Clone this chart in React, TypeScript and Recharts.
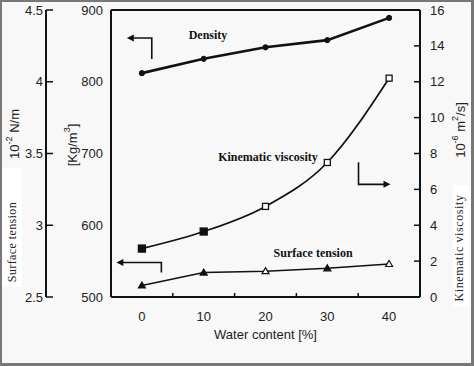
import React from "react";
import { LineChart, Line, XAxis, YAxis, ReferenceLine, ReferenceDot } from "recharts";

const waterContent = [0, 10, 20, 30, 40];
const density = [812, 832, 848, 858, 889];
const kinematicViscosity = [2.7, 3.65, 5.05, 7.5, 12.2];
const surfaceTension = [2.58, 2.67, 2.68, 2.7, 2.73];

const xTicks = [0, 5, 10, 15, 20, 25, 30, 35, 40];
const densityTicks = [500, 600, 700, 800, 900];
const tensionTicks = [2.5, 3, 3.5, 4, 4.5];
const viscosityTicks = [0, 2, 4, 6, 8, 10, 12, 14, 16];

const data = waterContent.map((w, i) => ({
  w,
  density: density[i],
  kv: kinematicViscosity[i],
  st: surfaceTension[i],
}));

const INK = "#111";
const SANS = "'Liberation Sans', Arial, sans-serif";
const SERIF = "'Liberation Serif', 'Times New Roman', serif";

const XTick = (p: any) => {
  const v = p.payload.value;
  if (v % 10 === 0) {
    return (
      <text x={p.x} y={p.y + 24} textAnchor="middle" fontSize={13} fill="#222" fontFamily={SANS}>
        {v}
      </text>
    );
  }
  return <line x1={p.x} x2={p.x} y1={p.y} y2={p.y - 4} stroke={INK} strokeWidth={1.5} />;
};

const TensionTick = (p: any) => (
  <g>
    <line x1={p.x + 3} x2={p.x + 10} y1={p.y} y2={p.y} stroke={INK} strokeWidth={1.5} />
    <text x={p.x} y={p.y + 4.5} textAnchor="end" fontSize={13} fill="#222" fontFamily={SANS}>
      {p.payload.value}
    </text>
  </g>
);

const ViscTick = (p: any) => (
  <g>
    <line x1={p.x - 10} x2={p.x - 16} y1={p.y} y2={p.y} stroke={INK} strokeWidth={1.5} />
    <text x={p.x} y={p.y + 4.5} textAnchor="start" fontSize={13} fill="#222" fontFamily={SANS}>
      {p.payload.value}
    </text>
  </g>
);

const squareDot = (p: any) => {
  const filled = p.index < 2;
  const s = filled ? 7 : 6;
  return (
    <rect
      key={`kv-${p.index}`}
      x={p.cx - s / 2}
      y={p.cy - s / 2}
      width={s}
      height={s}
      fill={filled ? INK : "#fff"}
      stroke={INK}
      strokeWidth={1.3}
    />
  );
};

const triangleDot = (p: any) => {
  const filled = p.index !== 2 && p.index !== 4;
  return (
    <path
      key={`st-${p.index}`}
      d={`M${p.cx},${p.cy - 3.5} L${p.cx + 3.5},${p.cy + 2.5} L${p.cx - 3.5},${p.cy + 2.5} Z`}
      fill={filled ? INK : "#fff"}
      stroke={INK}
      strokeWidth={1.2}
    />
  );
};

const arrow = (path: string, head: string) => (p: any) => (
  <g transform={`translate(${p.cx},${p.cy})`}>
    <path d={path} fill="none" stroke={INK} strokeWidth={1.6} />
    <path d={head} fill={INK} />
  </g>
);

const note = (label: string) => (p: any) => (
  <text
    x={p.cx}
    y={p.cy}
    textAnchor="middle"
    dominantBaseline="central"
    fontSize={12}
    fontWeight="bold"
    fontFamily={SERIF}
    fill={INK}
  >
    {label}
  </text>
);

export default function App() {
  return (
    <div style={{ position: "absolute", top: 0, left: 0, width: 474, height: 366, background: "#787878" }}>
      <div style={{ position: "absolute", top: 2, left: 2, right: 3, bottom: 3, background: "#f8f8f8" }} />
      <svg width={474} height={366} style={{ position: "absolute", top: 0, left: 0 }}>
        <rect x={2} y={168} width={20} height={119} fill="#fff" />
        <rect x={453} y={185} width={18} height={122} fill="#fff" />
        <g transform="translate(14,134) rotate(-90)">
          <text textAnchor="middle" dominantBaseline="central" fontSize={13} fontFamily={SANS} fill="#222">
            10<tspan dy={-5} fontSize={9}>-2</tspan>
            <tspan dy={5}> N/m</tspan>
          </text>
        </g>
        <g transform="translate(12,242) rotate(-90)">
          <text textAnchor="middle" dominantBaseline="central" fontSize={12} fontFamily={SERIF} fill="#222" letterSpacing={0.4}>
            Surface tension
          </text>
        </g>
        <g transform="translate(72,145) rotate(-90)">
          <text textAnchor="middle" dominantBaseline="central" fontSize={13} fontFamily={SANS} fill="#222">
            [Kg/m<tspan dy={-5} fontSize={9}>3</tspan>
            <tspan dy={5}>]</tspan>
          </text>
        </g>
        <g transform="translate(460,130) rotate(-90)">
          <text textAnchor="middle" dominantBaseline="central" fontSize={13} fontFamily={SANS} fill="#222">
            10<tspan dy={-5} fontSize={9}>-6</tspan>
            <tspan dy={5}> m</tspan>
            <tspan dy={-5} fontSize={9}>2</tspan>
            <tspan dy={5}>/s]</tspan>
          </text>
        </g>
        <g transform="translate(459,248) rotate(-90)">
          <text textAnchor="middle" dominantBaseline="central" fontSize={12} fontFamily={SERIF} fill="#222" letterSpacing={0.6}>
            Kinematic viscosity
          </text>
        </g>
      </svg>
      <div style={{ position: "absolute", top: 0, left: 0 }}>
        <LineChart width={474} height={366} data={data} margin={{ top: 10, right: 0, left: 0, bottom: 39 }}>
          <XAxis
            xAxisId="x"
            dataKey="w"
            type="number"
            domain={[-5, 45]}
            ticks={xTicks}
            interval={0}
            height={30}
            tickSize={0}
            tickMargin={0}
            tickLine={false}
            axisLine={{ stroke: INK, strokeWidth: 2 }}
            tick={<XTick />}
            label={{
              value: "Water content [%]",
              position: "insideBottom",
              offset: -12,
              fontSize: 13,
              fill: "#222",
              fontFamily: SANS,
            }}
          />
          <YAxis
            yAxisId="density"
            orientation="left"
            width={65}
            domain={[500, 900]}
            ticks={densityTicks}
            interval={0}
            tickSize={0}
            tickMargin={8}
            tickLine={false}
            axisLine={{ stroke: INK, strokeWidth: 2 }}
            tick={{ fontSize: 13, fill: "#222", fontFamily: SANS }}
          />
          <YAxis
            yAxisId="tension"
            orientation="left"
            width={46}
            domain={[2.5, 4.5]}
            ticks={tensionTicks}
            interval={0}
            tickSize={0}
            tickMargin={3}
            tickLine={false}
            axisLine={{ stroke: INK, strokeWidth: 2 }}
            tick={<TensionTick />}
          />
          <YAxis
            yAxisId="visc"
            orientation="right"
            width={54}
            domain={[0, 16]}
            ticks={viscosityTicks}
            interval={0}
            tickSize={0}
            tickMargin={10}
            tickLine={false}
            axisLine={{ stroke: INK, strokeWidth: 2 }}
            tick={<ViscTick />}
          />
          <ReferenceLine xAxisId="x" yAxisId="density" y={900} stroke={INK} strokeWidth={2} />

          <Line
            xAxisId="x"
            yAxisId="density"
            dataKey="density"
            type="linear"
            stroke={INK}
            strokeWidth={2.6}
            dot={{ r: 2.6, fill: INK, stroke: INK, strokeWidth: 1 }}
            isAnimationActive={false}
          />
          <Line
            xAxisId="x"
            yAxisId="visc"
            dataKey="kv"
            type="monotone"
            stroke={INK}
            strokeWidth={1.7}
            dot={squareDot}
            isAnimationActive={false}
          />
          <Line
            xAxisId="x"
            yAxisId="tension"
            dataKey="st"
            type="linear"
            stroke={INK}
            strokeWidth={1.5}
            dot={triangleDot}
            isAnimationActive={false}
          />

          <ReferenceDot xAxisId="x" yAxisId="density" x={10.7} y={865} shape={note("Density")} />
          <ReferenceDot xAxisId="x" yAxisId="density" x={20.4} y={695} shape={note("Kinematic viscosity")} />
          <ReferenceDot xAxisId="x" yAxisId="density" x={27.7} y={562} shape={note("Surface tension")} />
          <ReferenceDot
            xAxisId="x"
            yAxisId="density"
            x={1.6}
            y={861}
            shape={arrow("M0,21 L0,0 L-19,0", "M-25,0 L-18,-3.5 L-18,3.5 Z")}
          />
          <ReferenceDot
            xAxisId="x"
            yAxisId="density"
            x={3.15}
            y={548}
            shape={arrow("M0,10 L0,0 L-39,0", "M-45,0 L-38,-3.5 L-38,3.5 Z")}
          />
          <ReferenceDot
            xAxisId="x"
            yAxisId="density"
            x={35.05}
            y={657}
            shape={arrow("M0,-22 L0,0 L26,0", "M32,0 L25,-3.5 L25,3.5 Z")}
          />
        </LineChart>
      </div>
    </div>
  );
}
